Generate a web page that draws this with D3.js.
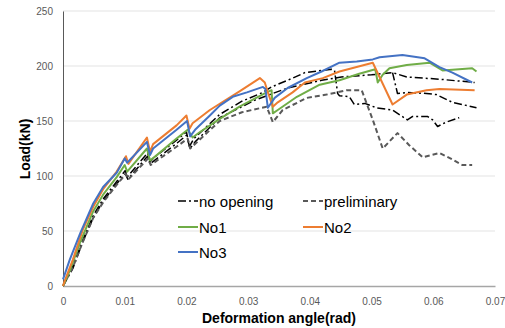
<!DOCTYPE html>
<html>
<head>
<meta charset="utf-8">
<script src="https://cdn.jsdelivr.net/npm/d3@7"></script>
<style>
  html, body { margin: 0; padding: 0; background: #fff; }
  svg { display: block; font-family: "Liberation Sans", Arial, sans-serif; }
</style>
</head>
<body>
<svg id="chart" width="505" height="328"></svg>
<script>
// ---- data ----
const xTicks = [0, 0.01, 0.02, 0.03, 0.04, 0.05, 0.06, 0.07];
const xTickLabels = ["0", "0.01", "0.02", "0.03", "0.04", "0.05", "0.06", "0.07"];
const yTicks = [0, 50, 100, 150, 200, 250];
const yTickLabels = ["0", "50", "100", "150", "200", "250"];

const noOpeningA = [[0,0],[0.0016,18],[0.0032,42],[0.0049,64],[0.0065,79],[0.0087,95],[0.0101,105],[0.0104,99],[0.0137,121],[0.0141,113],[0.0148,117],[0.0185,133],[0.0200,140],[0.0205,127],[0.0212,134],[0.0254,156],[0.0290,168],[0.0324,176],[0.0338,181],[0.0364,187],[0.0392,194],[0.0435,197],[0.0440,196],[0.0445,175],[0.0448,173],[0.0464,172],[0.0472,165],[0.0489,166],[0.0508,162],[0.0534,160],[0.0558,151],[0.0566,154],[0.0591,154],[0.0599,151],[0.0607,145],[0.0621,149],[0.0642,153]];
const noOpeningB = [[0,0],[0.0016,16],[0.0032,40],[0.0049,62],[0.0065,77],[0.0087,93],[0.0101,102],[0.0105,97],[0.0137,118],[0.0141,111],[0.0185,130],[0.0200,137],[0.0206,125],[0.0214,131],[0.0254,153],[0.0311,169],[0.0364,180],[0.0419,187],[0.0451,190],[0.0500,192],[0.0534,194],[0.0557,190],[0.0610,188],[0.0667,185]];
const noOpeningC = [[0.0534,194],[0.0542,175],[0.0558,176],[0.0589,175],[0.0605,174],[0.0631,167],[0.0670,162]];
const preliminary = [[0,0],[0.0016,17],[0.0032,40],[0.0049,62],[0.0065,76],[0.0087,92],[0.0102,102],[0.0106,97],[0.0138,116],[0.0142,110],[0.0185,127],[0.0202,134],[0.0206,125],[0.0254,150],[0.0290,158],[0.0330,163],[0.0340,149],[0.0356,160],[0.0395,171],[0.0427,174],[0.0460,178],[0.0484,178],[0.0492,166],[0.0502,151],[0.0518,125],[0.0542,139],[0.0561,128],[0.0583,117],[0.0610,121],[0.0631,115],[0.0647,110],[0.0663,110]];
const no1 = [[0,0],[0.0011,14],[0.0028,40],[0.0049,68],[0.0065,83],[0.0087,99],[0.0100,110],[0.0104,104],[0.0136,125],[0.0141,114],[0.0152,119],[0.0184,134],[0.0202,142],[0.0210,135],[0.0222,140],[0.0254,152],[0.0286,163],[0.0330,176],[0.0338,178],[0.0340,157],[0.0348,160],[0.0379,172],[0.0416,183],[0.0448,187],[0.0480,193],[0.0506,197],[0.0510,185],[0.0518,192],[0.0529,198],[0.0557,201],[0.0594,203],[0.0615,196],[0.0663,198],[0.0670,195]];
const no2 = [[0,0],[0.0003,5],[0.0016,24],[0.0032,51],[0.0049,72],[0.0065,88],[0.0087,104],[0.0102,118],[0.0106,111],[0.0136,135],[0.0141,122],[0.0146,129],[0.0184,146],[0.0200,155],[0.0205,143],[0.0210,148],[0.0238,160],[0.0286,177],[0.0319,189],[0.0327,185],[0.0332,176],[0.0340,163],[0.0348,167],[0.0372,176],[0.0392,185],[0.0421,189],[0.0448,195],[0.0502,203],[0.0534,165],[0.0557,174],[0.0589,178],[0.0610,179],[0.0667,178]];
const no3 = [[0,6],[0.0011,24],[0.0028,48],[0.0049,75],[0.0065,90],[0.0087,103],[0.0100,116],[0.0104,112],[0.0136,131],[0.0141,119],[0.0146,125],[0.0184,142],[0.0201,150],[0.0206,136],[0.0214,142],[0.0238,155],[0.0254,164],[0.0275,172],[0.0298,176],[0.0324,181],[0.0328,179],[0.0332,162],[0.0343,171],[0.0364,180],[0.0395,189],[0.0419,195],[0.0448,203],[0.0476,204],[0.0502,206],[0.0513,208],[0.0550,210],[0.0586,207],[0.0610,199],[0.0631,194],[0.0663,185]];

const legendLabels = ["no opening", "preliminary", "No1", "No2", "No3"];

// ---- styles ----
const styles = {
  "no opening": { color: "#000000", width: 1.5, dash: "8,3,2,3" },
  "preliminary": { color: "#595959", width: 2, dash: "5,3" },
  "No1": { color: "#70AD47", width: 2, dash: null },
  "No2": { color: "#ED7D31", width: 2, dash: null },
  "No3": { color: "#4472C4", width: 2, dash: null }
};

const seriesList = [
  { key: "no opening", data: noOpeningA },
  { key: "no opening", data: noOpeningB },
  { key: "no opening", data: noOpeningC },
  { key: "preliminary", data: preliminary },
  { key: "No1", data: no1 },
  { key: "No2", data: no2 },
  { key: "No3", data: no3 }
];

const svg = d3.select("#chart");
const x = d3.scaleLinear().domain([0, 0.07]).range([63, 495]);
const y = d3.scaleLinear().domain([0, 250]).range([286, 11]);

// gridlines
svg.append("g").selectAll("line").data(yTicks.filter(t => t > 0)).join("line")
  .attr("x1", x(0)).attr("x2", x(0.07))
  .attr("y1", d => y(d)).attr("y2", d => y(d))
  .attr("stroke", "#e3e3e3").attr("stroke-width", 1);

// axes
const xAxis = d3.axisBottom(x).tickValues(xTicks)
  .tickFormat((d, i) => xTickLabels[i]).tickSize(0).tickPadding(12);
const gx = svg.append("g").attr("transform", `translate(0,${y(0)})`).call(xAxis);
gx.select(".domain").attr("stroke", "#a6a6a6").attr("stroke-width", 1.5);
gx.selectAll("text").attr("fill", "#595959").style("font-size", "10px");

const yAxis = d3.axisLeft(y).tickValues(yTicks)
  .tickFormat((d, i) => yTickLabels[i]).tickSize(0).tickPadding(10);
const gy = svg.append("g").attr("transform", `translate(${x(0)},0)`).call(yAxis);
gy.select(".domain").attr("stroke", "#595959").attr("stroke-width", 1);
gy.selectAll("text").attr("fill", "#595959").style("font-size", "10px");

// series
const line = d3.line().x(d => x(d[0])).y(d => y(d[1]));
svg.append("g").selectAll("path").data(seriesList).join("path")
  .attr("d", d => line(d.data))
  .attr("fill", "none")
  .attr("stroke", d => styles[d.key].color)
  .attr("stroke-width", d => styles[d.key].width)
  .attr("stroke-dasharray", d => styles[d.key].dash)
  .attr("stroke-linejoin", "round");

// titles
svg.append("text").attr("x", 279).attr("y", 323).attr("text-anchor", "middle")
  .style("font-size", "14px").style("font-weight", "bold").attr("fill", "#000")
  .text("Deformation angle(rad)");
svg.append("text").attr("transform", "translate(30,149) rotate(-90)").attr("text-anchor", "middle")
  .style("font-size", "14px").style("font-weight", "bold").attr("fill", "#000")
  .text("Load(kN)");

// legend
const legPos = [[178, 201], [303, 201], [178, 227], [303, 227], [178, 252]];
const lg = svg.append("g").selectAll("g").data(legendLabels).join("g")
  .attr("transform", (d, i) => `translate(${legPos[i][0]},${legPos[i][1]})`);
lg.append("line").attr("x1", 0).attr("x2", 20).attr("y1", 0).attr("y2", 0)
  .attr("stroke", d => styles[d].color)
  .attr("stroke-width", d => styles[d].width)
  .attr("stroke-dasharray", d => styles[d].dash);
lg.append("text").attr("x", 21).attr("y", 5.5).style("font-size", "15px").attr("fill", "#000")
  .text(d => d);
</script>
</body>
</html>
